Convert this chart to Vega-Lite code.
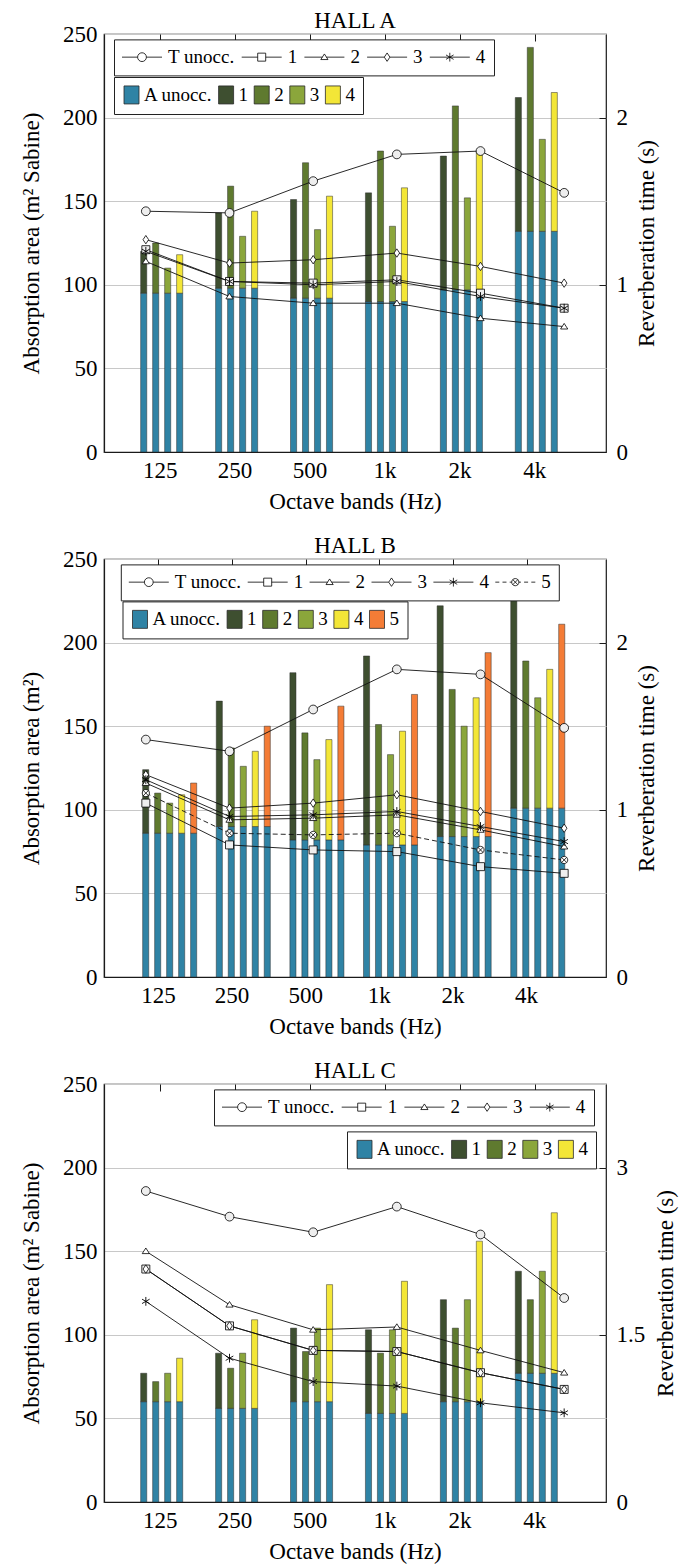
{
  "$schema": "https://vega.github.io/schema/vega-lite/v6.json",
  "padding": {"left": 19, "top": 9, "right": 2, "bottom": 5},
  "bounds": "flush",
  "spacing": 107,
  "config": {
    "font": "Liberation Serif",
    "view": {"stroke": "#1a1a1a", "strokeWidth": 1.2},
    "style": {"guide-label": {"font": "Liberation Serif"}, "guide-title": {"font": "Liberation Serif"}, "group-title": {"font": "Liberation Serif"}},
    "axis": {"labelFont": "Liberation Serif", "titleFont": "Liberation Serif", "labelFontSize": 23, "titleFontSize": 23, "titleFontWeight": "normal", "labelColor": "black", "titleColor": "black", "domainColor": "#1a1a1a", "domainWidth": 1.2, "tickColor": "#1a1a1a", "gridColor": "#c8c8c8", "gridWidth": 1},
    "title": {"font": "Liberation Serif", "fontSize": 23, "fontWeight": "normal", "color": "black", "offset": -10},
    "legend": {"labelFont": "Liberation Serif", "labelFontSize": 19, "labelColor": "black"}
  },
  "resolve": {"scale": {"color": "independent", "shape": "independent"}},
  "vconcat": [
    {
      "title": "HALL A",
      "width": 502,
      "height": 418,
      "layer": [
        {
          "data": {"values": [
            {"band": "125", "cond": "1", "unocc": 95, "occ": 120},
            {"band": "125", "cond": "2", "unocc": 95, "occ": 125},
            {"band": "125", "cond": "3", "unocc": 95, "occ": 110},
            {"band": "125", "cond": "4", "unocc": 95, "occ": 118},
            {"band": "250", "cond": "1", "unocc": 98, "occ": 143},
            {"band": "250", "cond": "2", "unocc": 98, "occ": 159},
            {"band": "250", "cond": "3", "unocc": 98, "occ": 129},
            {"band": "250", "cond": "4", "unocc": 98, "occ": 144},
            {"band": "500", "cond": "1", "unocc": 92, "occ": 151},
            {"band": "500", "cond": "2", "unocc": 92, "occ": 173},
            {"band": "500", "cond": "3", "unocc": 92, "occ": 133},
            {"band": "500", "cond": "4", "unocc": 92, "occ": 153},
            {"band": "1k", "cond": "1", "unocc": 90, "occ": 155},
            {"band": "1k", "cond": "2", "unocc": 90, "occ": 180},
            {"band": "1k", "cond": "3", "unocc": 90, "occ": 135},
            {"band": "1k", "cond": "4", "unocc": 90, "occ": 158},
            {"band": "2k", "cond": "1", "unocc": 97, "occ": 177},
            {"band": "2k", "cond": "2", "unocc": 97, "occ": 207},
            {"band": "2k", "cond": "3", "unocc": 97, "occ": 152},
            {"band": "2k", "cond": "4", "unocc": 97, "occ": 180},
            {"band": "4k", "cond": "1", "unocc": 132, "occ": 212},
            {"band": "4k", "cond": "2", "unocc": 132, "occ": 242},
            {"band": "4k", "cond": "3", "unocc": 132, "occ": 187},
            {"band": "4k", "cond": "4", "unocc": 132, "occ": 215}
          ]},
          "encoding": {
            "x": {"field": "band", "type": "nominal", "sort": ["125", "250", "500", "1k", "2k", "4k"], "scale": {"paddingInner": 0.2, "paddingOuter": 0.45}, "axis": {"title": "Octave bands (Hz)", "labelAngle": 0, "ticks": false, "labelOffset": -7.5, "labelPadding": 7, "titlePadding": 8, "labelFont": "Liberation Serif", "titleFont": "Liberation Serif"}},
            "xOffset": {"field": "cond", "type": "nominal", "sort": ["1", "2", "3", "4"], "scale": {"paddingInner": 0.49, "paddingOuter": 0.245}}
          },
          "layer": [
            {
              "mark": {"type": "bar", "stroke": "#2a2a2a", "strokeWidth": 0.7, "strokeOpacity": 0.7},
              "encoding": {
                "y": {"field": "unocc", "type": "quantitative", "stack": null, "scale": {"domain": [0, 250], "nice": false}, "axis": {"title": "Absorption area (m² Sabine)", "values": [0, 50, 100, 150, 200, 250], "grid": true, "ticks": false, "labelPadding": 7, "titlePadding": 19, "labelFont": "Liberation Serif", "titleFont": "Liberation Serif"}},
                "color": {"datum": "A unocc.", "type": "nominal", "scale": {"domain": ["A unocc.", "1", "2", "3", "4"], "range": ["#2f83a5", "#3e4f30", "#5f7a2f", "#8ba63b", "#f3e637"]},
                  "legend": {"orient": "none", "legendX": 10, "legendY": 43, "direction": "horizontal", "columns": 5, "title": null, "fillColor": "white", "strokeColor": "#222", "padding": 8, "symbolType": "M-1,-1.2H1V1.2H-1Z", "symbolSize": 225, "symbolStrokeColor": "#333", "symbolStrokeWidth": 0.8, "labelOffset": 3, "columnPadding": 3.6, "labelFont": "Liberation Serif", "labelFontSize": 19}}
              }
            },
            {
              "mark": {"type": "bar", "stroke": "#2a2a2a", "strokeWidth": 0.7, "strokeOpacity": 0.7},
              "encoding": {
                "y": {"field": "unocc", "type": "quantitative", "stack": null, "title": "Absorption area (m² Sabine)"},
                "y2": {"field": "occ"},
                "color": {"field": "cond", "type": "nominal", "legend": {"title": null}}
              }
            }
          ]
        },
        {
          "data": {"values": [{"band": "125"}, {"band": "250"}, {"band": "500"}, {"band": "1k"}, {"band": "2k"}, {"band": "4k"}]},
          "mark": {"type": "tick", "opacity": 0},
          "encoding": {"x": {"field": "band", "type": "nominal", "sort": ["125", "250", "500", "1k", "2k", "4k"], "scale": {"paddingInner": 0.2, "paddingOuter": 0.45}, "axis": {"orient": "top", "labels": false, "title": null, "domain": false, "offset": -7, "tickSize": 7, "tickOffset": -7.5, "tickWidth": 1}}}
        },
        {
          "data": {"values": [
            {"band": "125", "series": "T unocc.", "T": 1.44}, {"band": "250", "series": "T unocc.", "T": 1.43}, {"band": "500", "series": "T unocc.", "T": 1.62}, {"band": "1k", "series": "T unocc.", "T": 1.78}, {"band": "2k", "series": "T unocc.", "T": 1.80}, {"band": "4k", "series": "T unocc.", "T": 1.55},
            {"band": "125", "series": "1", "T": 1.21}, {"band": "250", "series": "1", "T": 1.02}, {"band": "500", "series": "1", "T": 1.01}, {"band": "1k", "series": "1", "T": 1.03}, {"band": "2k", "series": "1", "T": 0.95}, {"band": "4k", "series": "1", "T": 0.86},
            {"band": "125", "series": "2", "T": 1.14}, {"band": "250", "series": "2", "T": 0.93}, {"band": "500", "series": "2", "T": 0.89}, {"band": "1k", "series": "2", "T": 0.89}, {"band": "2k", "series": "2", "T": 0.80}, {"band": "4k", "series": "2", "T": 0.75},
            {"band": "125", "series": "3", "T": 1.27}, {"band": "250", "series": "3", "T": 1.13}, {"band": "500", "series": "3", "T": 1.15}, {"band": "1k", "series": "3", "T": 1.19}, {"band": "2k", "series": "3", "T": 1.11}, {"band": "4k", "series": "3", "T": 1.01},
            {"band": "125", "series": "4", "T": 1.20}, {"band": "250", "series": "4", "T": 1.02}, {"band": "500", "series": "4", "T": 1.00}, {"band": "1k", "series": "4", "T": 1.02}, {"band": "2k", "series": "4", "T": 0.93}, {"band": "4k", "series": "4", "T": 0.86}
          ]},
          "encoding": {
            "x": {"field": "band", "type": "nominal", "sort": ["125", "250", "500", "1k", "2k", "4k"], "scale": {"type": "point", "padding": 0.5}, "axis": null},
            "y": {"field": "T", "type": "quantitative", "scale": {"domain": [0, 2.5], "nice": false}, "axis": {"orient": "right", "title": "Reverberation time (s)", "values": [0, 1, 2], "grid": false, "domain": false, "offset": -7, "tickSize": 7, "labelPadding": 10, "titlePadding": 8, "titleAngle": 270, "titleBaseline": "top", "labelFont": "Liberation Serif", "titleFont": "Liberation Serif"}}
          },
          "layer": [
            {"mark": {"type": "line", "color": "#111", "strokeWidth": 0.9}, "encoding": {"detail": {"field": "series"}}},
            {"transform": [{"filter": "datum.series === 'T unocc.'"}], "mark": {"type": "point", "shape": "M1.1,0A1.1,1.1 0 1,1 -1.1,0A1.1,1.1 0 1,1 1.1,0Z", "filled": true, "fill": "#eeeeee", "opacity": 1, "stroke": "black", "strokeWidth": 0.8, "size": 64}},
            {"transform": [{"filter": "datum.series === '1'"}], "mark": {"type": "point", "shape": "M-1,-1H1V1H-1Z", "filled": true, "fill": "#eeeeee", "opacity": 1, "stroke": "black", "strokeWidth": 0.8, "size": 64}},
            {"transform": [{"filter": "datum.series === '2'"}], "mark": {"type": "point", "shape": "M0,-0.8L0.9,0.6L-0.9,0.6Z", "filled": true, "fill": "white", "opacity": 1, "stroke": "black", "strokeWidth": 0.8, "size": 64}},
            {"transform": [{"filter": "datum.series === '3'"}], "mark": {"type": "point", "shape": "M0,-1.05L0.7,0L0,1.05L-0.7,0Z", "filled": true, "fill": "white", "opacity": 1, "stroke": "black", "strokeWidth": 0.8, "size": 64}},
            {"transform": [{"filter": "datum.series === '4'"}], "mark": {"type": "point", "shape": "M0,-1.1V1.1M-0.95,-0.55L0.95,0.55M-0.95,0.55L0.95,-0.55", "filled": false, "opacity": 1, "stroke": "black", "strokeWidth": 0.9, "size": 64}},
            {
              "mark": {"type": "point", "filled": false, "color": "black", "opacity": 0, "strokeWidth": 0.8, "size": 64},
              "encoding": {
                "shape": {"field": "series", "type": "nominal", "scale": {"domain": ["T unocc.", "1", "2", "3", "4"], "range": [
                  "M-5,0H-1.1M1.1,0H5M1.1,0A1.1,1.1 0 1,1 -1.1,0A1.1,1.1 0 1,1 1.1,0Z",
                  "M-5,0H-1M1,0H5M-1,-1H1V1H-1Z",
                  "M-5,0H-0.5M0.5,0H5M0,-0.8L0.9,0.6L-0.9,0.6Z",
                  "M-5,0H-0.7M0.7,0H5M0,-1.05L0.7,0L0,1.05L-0.7,0Z",
                  "M-5,0H5M0,-1.1V1.1M-0.95,-0.55L0.95,0.55M-0.95,0.55L0.95,-0.55"
                ]},
                  "legend": {"orient": "none", "legendX": 10, "legendY": 5.4, "direction": "horizontal", "columns": 5, "title": null, "fillColor": "white", "strokeColor": "#222", "padding": 8, "symbolSize": 64, "symbolOffset": 10.5, "labelOffset": 16.5, "columnPadding": 4.7, "symbolStrokeColor": "black", "symbolStrokeWidth": 0.8, "labelFont": "Liberation Serif", "labelFontSize": 19}}
              }
            }
          ]
        }
      ],
      "resolve": {"scale": {"x": "independent", "y": "independent"}}
    },
    {
      "title": "HALL B",
      "width": 502,
      "height": 418,
      "layer": [
        {
          "data": {"values": [
            {"band": "125", "cond": "1", "unocc": 86, "occ": 124},
            {"band": "125", "cond": "2", "unocc": 86, "occ": 110},
            {"band": "125", "cond": "3", "unocc": 86, "occ": 104},
            {"band": "125", "cond": "4", "unocc": 86, "occ": 109},
            {"band": "125", "cond": "5", "unocc": 86, "occ": 116},
            {"band": "250", "cond": "1", "unocc": 90, "occ": 165},
            {"band": "250", "cond": "2", "unocc": 90, "occ": 137},
            {"band": "250", "cond": "3", "unocc": 90, "occ": 126},
            {"band": "250", "cond": "4", "unocc": 90, "occ": 135},
            {"band": "250", "cond": "5", "unocc": 90, "occ": 150},
            {"band": "500", "cond": "1", "unocc": 82, "occ": 182},
            {"band": "500", "cond": "2", "unocc": 82, "occ": 146},
            {"band": "500", "cond": "3", "unocc": 82, "occ": 130},
            {"band": "500", "cond": "4", "unocc": 82, "occ": 142},
            {"band": "500", "cond": "5", "unocc": 82, "occ": 162},
            {"band": "1k", "cond": "1", "unocc": 79, "occ": 192},
            {"band": "1k", "cond": "2", "unocc": 79, "occ": 151},
            {"band": "1k", "cond": "3", "unocc": 79, "occ": 133},
            {"band": "1k", "cond": "4", "unocc": 79, "occ": 147},
            {"band": "1k", "cond": "5", "unocc": 79, "occ": 169},
            {"band": "2k", "cond": "1", "unocc": 84, "occ": 222},
            {"band": "2k", "cond": "2", "unocc": 84, "occ": 172},
            {"band": "2k", "cond": "3", "unocc": 84, "occ": 150},
            {"band": "2k", "cond": "4", "unocc": 84, "occ": 167},
            {"band": "2k", "cond": "5", "unocc": 84, "occ": 194},
            {"band": "4k", "cond": "1", "unocc": 101, "occ": 229},
            {"band": "4k", "cond": "2", "unocc": 101, "occ": 189},
            {"band": "4k", "cond": "3", "unocc": 101, "occ": 167},
            {"band": "4k", "cond": "4", "unocc": 101, "occ": 184},
            {"band": "4k", "cond": "5", "unocc": 101, "occ": 211}
          ]},
          "encoding": {
            "x": {"field": "band", "type": "nominal", "sort": ["125", "250", "500", "1k", "2k", "4k"], "scale": {"paddingInner": 0.151, "paddingOuter": 0.485}, "axis": {"title": "Octave bands (Hz)", "labelAngle": 0, "ticks": false, "labelOffset": -12.5, "labelPadding": 7, "titlePadding": 8, "labelFont": "Liberation Serif", "titleFont": "Liberation Serif"}},
            "xOffset": {"field": "cond", "type": "nominal", "sort": ["1", "2", "3", "4", "5"], "scale": {"paddingInner": 0.384, "paddingOuter": 0.192}}
          },
          "layer": [
            {
              "mark": {"type": "bar", "stroke": "#2a2a2a", "strokeWidth": 0.7, "strokeOpacity": 0.7},
              "encoding": {
                "y": {"field": "unocc", "type": "quantitative", "stack": null, "scale": {"domain": [0, 250], "nice": false}, "axis": {"title": "Absorption area (m²)", "values": [0, 50, 100, 150, 200, 250], "grid": true, "ticks": false, "labelPadding": 7, "titlePadding": 19, "labelFont": "Liberation Serif", "titleFont": "Liberation Serif"}},
                "color": {"datum": "A unocc.", "type": "nominal", "scale": {"domain": ["A unocc.", "1", "2", "3", "4", "5"], "range": ["#2f83a5", "#3e4f30", "#5f7a2f", "#8ba63b", "#f3e637", "#f47c36"]},
                  "legend": {"orient": "none", "legendX": 18.5, "legendY": 42.4, "direction": "horizontal", "columns": 6, "title": null, "fillColor": "white", "strokeColor": "#222", "padding": 8, "symbolType": "M-1,-1.2H1V1.2H-1Z", "symbolSize": 225, "symbolStrokeColor": "#333", "symbolStrokeWidth": 0.8, "labelOffset": 3, "columnPadding": 3.6, "labelFont": "Liberation Serif", "labelFontSize": 19}}
              }
            },
            {
              "mark": {"type": "bar", "stroke": "#2a2a2a", "strokeWidth": 0.7, "strokeOpacity": 0.7},
              "encoding": {
                "y": {"field": "unocc", "type": "quantitative", "stack": null, "title": "Absorption area (m²)"},
                "y2": {"field": "occ"},
                "color": {"field": "cond", "type": "nominal", "legend": {"title": null}}
              }
            }
          ]
        },
        {
          "data": {"values": [{"band": "125"}, {"band": "250"}, {"band": "500"}, {"band": "1k"}, {"band": "2k"}, {"band": "4k"}]},
          "mark": {"type": "tick", "opacity": 0},
          "encoding": {"x": {"field": "band", "type": "nominal", "sort": ["125", "250", "500", "1k", "2k", "4k"], "scale": {"paddingInner": 0.151, "paddingOuter": 0.485}, "axis": {"orient": "top", "labels": false, "title": null, "domain": false, "offset": -7, "tickSize": 7, "tickOffset": -12.5, "tickWidth": 1}}}
        },
        {
          "data": {"values": [
            {"band": "125", "series": "T unocc.", "T": 1.42}, {"band": "250", "series": "T unocc.", "T": 1.35}, {"band": "500", "series": "T unocc.", "T": 1.60}, {"band": "1k", "series": "T unocc.", "T": 1.84}, {"band": "2k", "series": "T unocc.", "T": 1.81}, {"band": "4k", "series": "T unocc.", "T": 1.49},
            {"band": "125", "series": "1", "T": 1.04}, {"band": "250", "series": "1", "T": 0.79}, {"band": "500", "series": "1", "T": 0.76}, {"band": "1k", "series": "1", "T": 0.75}, {"band": "2k", "series": "1", "T": 0.66}, {"band": "4k", "series": "1", "T": 0.62},
            {"band": "125", "series": "2", "T": 1.16}, {"band": "250", "series": "2", "T": 0.94}, {"band": "500", "series": "2", "T": 0.95}, {"band": "1k", "series": "2", "T": 0.97}, {"band": "2k", "series": "2", "T": 0.88}, {"band": "4k", "series": "2", "T": 0.78},
            {"band": "125", "series": "3", "T": 1.21}, {"band": "250", "series": "3", "T": 1.01}, {"band": "500", "series": "3", "T": 1.04}, {"band": "1k", "series": "3", "T": 1.09}, {"band": "2k", "series": "3", "T": 0.99}, {"band": "4k", "series": "3", "T": 0.89},
            {"band": "125", "series": "4", "T": 1.18}, {"band": "250", "series": "4", "T": 0.96}, {"band": "500", "series": "4", "T": 0.97}, {"band": "1k", "series": "4", "T": 0.99}, {"band": "2k", "series": "4", "T": 0.90}, {"band": "4k", "series": "4", "T": 0.81},
            {"band": "125", "series": "5", "T": 1.10}, {"band": "250", "series": "5", "T": 0.86}, {"band": "500", "series": "5", "T": 0.85}, {"band": "1k", "series": "5", "T": 0.86}, {"band": "2k", "series": "5", "T": 0.76}, {"band": "4k", "series": "5", "T": 0.70}
          ]},
          "encoding": {
            "x": {"field": "band", "type": "nominal", "sort": ["125", "250", "500", "1k", "2k", "4k"], "scale": {"type": "point", "padding": 0.5}, "axis": null},
            "y": {"field": "T", "type": "quantitative", "scale": {"domain": [0, 2.5], "nice": false}, "axis": {"orient": "right", "title": "Reverberation time (s)", "values": [0, 1, 2], "grid": false, "domain": false, "offset": -7, "tickSize": 7, "labelPadding": 10, "titlePadding": 8, "titleAngle": 270, "titleBaseline": "top", "labelFont": "Liberation Serif", "titleFont": "Liberation Serif"}}
          },
          "layer": [
            {"transform": [{"filter": "datum.series !== '5'"}], "mark": {"type": "line", "color": "#111", "strokeWidth": 0.9}, "encoding": {"detail": {"field": "series"}}},
            {"transform": [{"filter": "datum.series === '5'"}], "mark": {"type": "line", "color": "#111", "strokeWidth": 0.9, "strokeDash": [5, 3]}, "encoding": {}},
            {"transform": [{"filter": "datum.series === 'T unocc.'"}], "mark": {"type": "point", "shape": "M1.1,0A1.1,1.1 0 1,1 -1.1,0A1.1,1.1 0 1,1 1.1,0Z", "filled": true, "fill": "#eeeeee", "opacity": 1, "stroke": "black", "strokeWidth": 0.8, "size": 64}},
            {"transform": [{"filter": "datum.series === '1'"}], "mark": {"type": "point", "shape": "M-1,-1H1V1H-1Z", "filled": true, "fill": "#eeeeee", "opacity": 1, "stroke": "black", "strokeWidth": 0.8, "size": 64}},
            {"transform": [{"filter": "datum.series === '2'"}], "mark": {"type": "point", "shape": "M0,-0.8L0.9,0.6L-0.9,0.6Z", "filled": true, "fill": "white", "opacity": 1, "stroke": "black", "strokeWidth": 0.8, "size": 64}},
            {"transform": [{"filter": "datum.series === '3'"}], "mark": {"type": "point", "shape": "M0,-1.05L0.7,0L0,1.05L-0.7,0Z", "filled": true, "fill": "white", "opacity": 1, "stroke": "black", "strokeWidth": 0.8, "size": 64}},
            {"transform": [{"filter": "datum.series === '4'"}], "mark": {"type": "point", "shape": "M0,-1.1V1.1M-0.95,-0.55L0.95,0.55M-0.95,0.55L0.95,-0.55", "filled": false, "opacity": 1, "stroke": "black", "strokeWidth": 0.9, "size": 64}},
            {"transform": [{"filter": "datum.series === '5'"}], "mark": {"type": "point", "shape": "M0.9,0A0.9,0.9 0 1,1 -0.9,0A0.9,0.9 0 1,1 0.9,0ZM-0.64,-0.64L0.64,0.64M-0.64,0.64L0.64,-0.64", "filled": true, "fill": "white", "opacity": 1, "stroke": "black", "strokeWidth": 0.8, "size": 64}},
            {
              "mark": {"type": "point", "filled": false, "color": "black", "opacity": 0, "strokeWidth": 0.8, "size": 64},
              "encoding": {
                "shape": {"field": "series", "type": "nominal", "scale": {"domain": ["T unocc.", "1", "2", "3", "4", "5"], "range": [
                  "M-5,0H-1.1M1.1,0H5M1.1,0A1.1,1.1 0 1,1 -1.1,0A1.1,1.1 0 1,1 1.1,0Z",
                  "M-5,0H-1M1,0H5M-1,-1H1V1H-1Z",
                  "M-5,0H-0.5M0.5,0H5M0,-0.8L0.9,0.6L-0.9,0.6Z",
                  "M-5,0H-0.7M0.7,0H5M0,-1.05L0.7,0L0,1.05L-0.7,0Z",
                  "M-5,0H5M0,-1.1V1.1M-0.95,-0.55L0.95,0.55M-0.95,0.55L0.95,-0.55",
                  "M-5,0H-4M-3.2,0H-2.2M-1.4,0H-0.9M0.9,0H1.4M2.2,0H3.2M4,0H5M0.9,0A0.9,0.9 0 1,1 -0.9,0A0.9,0.9 0 1,1 0.9,0ZM-0.64,-0.64L0.64,0.64M-0.64,0.64L0.64,-0.64"
                ]},
                  "legend": {"orient": "none", "legendX": 16.8, "legendY": 5.4, "direction": "horizontal", "columns": 6, "title": null, "fillColor": "white", "strokeColor": "#222", "padding": 8, "symbolSize": 64, "symbolOffset": 10.5, "labelOffset": 16.5, "columnPadding": 3.9, "symbolStrokeColor": "black", "symbolStrokeWidth": 0.8, "labelFont": "Liberation Serif", "labelFontSize": 19}}
              }
            }
          ]
        }
      ],
      "resolve": {"scale": {"x": "independent", "y": "independent"}}
    },
    {
      "title": "HALL C",
      "width": 502,
      "height": 418,
      "layer": [
        {
          "data": {"values": [
            {"band": "125", "cond": "1", "unocc": 60, "occ": 77},
            {"band": "125", "cond": "2", "unocc": 60, "occ": 72},
            {"band": "125", "cond": "3", "unocc": 60, "occ": 77},
            {"band": "125", "cond": "4", "unocc": 60, "occ": 86},
            {"band": "250", "cond": "1", "unocc": 56, "occ": 89},
            {"band": "250", "cond": "2", "unocc": 56, "occ": 80},
            {"band": "250", "cond": "3", "unocc": 56, "occ": 89},
            {"band": "250", "cond": "4", "unocc": 56, "occ": 109},
            {"band": "500", "cond": "1", "unocc": 60, "occ": 104},
            {"band": "500", "cond": "2", "unocc": 60, "occ": 90},
            {"band": "500", "cond": "3", "unocc": 60, "occ": 104},
            {"band": "500", "cond": "4", "unocc": 60, "occ": 130},
            {"band": "1k", "cond": "1", "unocc": 53, "occ": 103},
            {"band": "1k", "cond": "2", "unocc": 53, "occ": 89},
            {"band": "1k", "cond": "3", "unocc": 53, "occ": 103},
            {"band": "1k", "cond": "4", "unocc": 53, "occ": 132},
            {"band": "2k", "cond": "1", "unocc": 60, "occ": 121},
            {"band": "2k", "cond": "2", "unocc": 60, "occ": 104},
            {"band": "2k", "cond": "3", "unocc": 60, "occ": 121},
            {"band": "2k", "cond": "4", "unocc": 60, "occ": 156},
            {"band": "4k", "cond": "1", "unocc": 77, "occ": 138},
            {"band": "4k", "cond": "2", "unocc": 77, "occ": 121},
            {"band": "4k", "cond": "3", "unocc": 77, "occ": 138},
            {"band": "4k", "cond": "4", "unocc": 77, "occ": 173}
          ]},
          "encoding": {
            "x": {"field": "band", "type": "nominal", "sort": ["125", "250", "500", "1k", "2k", "4k"], "scale": {"paddingInner": 0.2, "paddingOuter": 0.45}, "axis": {"title": "Octave bands (Hz)", "labelAngle": 0, "ticks": false, "labelOffset": -7.5, "labelPadding": 7, "titlePadding": 8, "labelFont": "Liberation Serif", "titleFont": "Liberation Serif"}},
            "xOffset": {"field": "cond", "type": "nominal", "sort": ["1", "2", "3", "4"], "scale": {"paddingInner": 0.49, "paddingOuter": 0.245}}
          },
          "layer": [
            {
              "mark": {"type": "bar", "stroke": "#2a2a2a", "strokeWidth": 0.7, "strokeOpacity": 0.7},
              "encoding": {
                "y": {"field": "unocc", "type": "quantitative", "stack": null, "scale": {"domain": [0, 250], "nice": false}, "axis": {"title": "Absorption area (m² Sabine)", "values": [0, 50, 100, 150, 200, 250], "grid": true, "ticks": false, "labelPadding": 7, "titlePadding": 19, "labelFont": "Liberation Serif", "titleFont": "Liberation Serif"}},
                "color": {"datum": "A unocc.", "type": "nominal", "scale": {"domain": ["A unocc.", "1", "2", "3", "4"], "range": ["#2f83a5", "#3e4f30", "#5f7a2f", "#8ba63b", "#f3e637"]},
                  "legend": {"orient": "none", "legendX": 243, "legendY": 47.4, "direction": "horizontal", "columns": 5, "title": null, "fillColor": "white", "strokeColor": "#222", "padding": 8, "symbolType": "M-1,-1.2H1V1.2H-1Z", "symbolSize": 225, "symbolStrokeColor": "#333", "symbolStrokeWidth": 0.8, "labelOffset": 3, "columnPadding": 3.6, "labelFont": "Liberation Serif", "labelFontSize": 19}}
              }
            },
            {
              "mark": {"type": "bar", "stroke": "#2a2a2a", "strokeWidth": 0.7, "strokeOpacity": 0.7},
              "encoding": {
                "y": {"field": "unocc", "type": "quantitative", "stack": null, "title": "Absorption area (m² Sabine)"},
                "y2": {"field": "occ"},
                "color": {"field": "cond", "type": "nominal", "legend": {"title": null}}
              }
            }
          ]
        },
        {
          "data": {"values": [{"band": "125"}, {"band": "250"}, {"band": "500"}, {"band": "1k"}, {"band": "2k"}, {"band": "4k"}]},
          "mark": {"type": "tick", "opacity": 0},
          "encoding": {"x": {"field": "band", "type": "nominal", "sort": ["125", "250", "500", "1k", "2k", "4k"], "scale": {"paddingInner": 0.2, "paddingOuter": 0.45}, "axis": {"orient": "top", "labels": false, "title": null, "domain": false, "offset": -7, "tickSize": 7, "tickOffset": -7.5, "tickWidth": 1}}}
        },
        {
          "data": {"values": [
            {"band": "125", "series": "T unocc.", "T": 2.79}, {"band": "250", "series": "T unocc.", "T": 2.56}, {"band": "500", "series": "T unocc.", "T": 2.42}, {"band": "1k", "series": "T unocc.", "T": 2.65}, {"band": "2k", "series": "T unocc.", "T": 2.40}, {"band": "4k", "series": "T unocc.", "T": 1.83},
            {"band": "125", "series": "1", "T": 2.09}, {"band": "250", "series": "1", "T": 1.58}, {"band": "500", "series": "1", "T": 1.36}, {"band": "1k", "series": "1", "T": 1.35}, {"band": "2k", "series": "1", "T": 1.16}, {"band": "4k", "series": "1", "T": 1.01},
            {"band": "125", "series": "2", "T": 2.25}, {"band": "250", "series": "2", "T": 1.77}, {"band": "500", "series": "2", "T": 1.545}, {"band": "1k", "series": "2", "T": 1.57}, {"band": "2k", "series": "2", "T": 1.36}, {"band": "4k", "series": "2", "T": 1.16},
            {"band": "125", "series": "3", "T": 2.09}, {"band": "250", "series": "3", "T": 1.58}, {"band": "500", "series": "3", "T": 1.36}, {"band": "1k", "series": "3", "T": 1.35}, {"band": "2k", "series": "3", "T": 1.16}, {"band": "4k", "series": "3", "T": 1.01},
            {"band": "125", "series": "4", "T": 1.80}, {"band": "250", "series": "4", "T": 1.29}, {"band": "500", "series": "4", "T": 1.08}, {"band": "1k", "series": "4", "T": 1.04}, {"band": "2k", "series": "4", "T": 0.89}, {"band": "4k", "series": "4", "T": 0.80}
          ]},
          "encoding": {
            "x": {"field": "band", "type": "nominal", "sort": ["125", "250", "500", "1k", "2k", "4k"], "scale": {"type": "point", "padding": 0.5}, "axis": null},
            "y": {"field": "T", "type": "quantitative", "scale": {"domain": [0, 3.75], "nice": false}, "axis": {"orient": "right", "title": "Reverberation time (s)", "values": [0, 1.5, 3], "format": ".1~f", "grid": false, "domain": false, "offset": -7, "tickSize": 7, "labelPadding": 10, "titlePadding": 10, "titleAngle": 270, "titleBaseline": "top", "labelFont": "Liberation Serif", "titleFont": "Liberation Serif"}}
          },
          "layer": [
            {"mark": {"type": "line", "color": "#111", "strokeWidth": 0.9}, "encoding": {"detail": {"field": "series"}}},
            {"transform": [{"filter": "datum.series === 'T unocc.'"}], "mark": {"type": "point", "shape": "M1.1,0A1.1,1.1 0 1,1 -1.1,0A1.1,1.1 0 1,1 1.1,0Z", "filled": true, "fill": "#eeeeee", "opacity": 1, "stroke": "black", "strokeWidth": 0.8, "size": 64}},
            {"transform": [{"filter": "datum.series === '1'"}], "mark": {"type": "point", "shape": "M-1,-1H1V1H-1Z", "filled": true, "fill": "#eeeeee", "opacity": 1, "stroke": "black", "strokeWidth": 0.8, "size": 64}},
            {"transform": [{"filter": "datum.series === '2'"}], "mark": {"type": "point", "shape": "M0,-0.8L0.9,0.6L-0.9,0.6Z", "filled": true, "fill": "white", "opacity": 1, "stroke": "black", "strokeWidth": 0.8, "size": 64}},
            {"transform": [{"filter": "datum.series === '3'"}], "mark": {"type": "point", "shape": "M0,-1.05L0.7,0L0,1.05L-0.7,0Z", "filled": true, "fill": "white", "opacity": 1, "stroke": "black", "strokeWidth": 0.8, "size": 64}},
            {"transform": [{"filter": "datum.series === '4'"}], "mark": {"type": "point", "shape": "M0,-1.1V1.1M-0.95,-0.55L0.95,0.55M-0.95,0.55L0.95,-0.55", "filled": false, "opacity": 1, "stroke": "black", "strokeWidth": 0.9, "size": 64}},
            {
              "mark": {"type": "point", "filled": false, "color": "black", "opacity": 0, "strokeWidth": 0.8, "size": 64},
              "encoding": {
                "shape": {"field": "series", "type": "nominal", "scale": {"domain": ["T unocc.", "1", "2", "3", "4"], "range": [
                  "M-5,0H-1.1M1.1,0H5M1.1,0A1.1,1.1 0 1,1 -1.1,0A1.1,1.1 0 1,1 1.1,0Z",
                  "M-5,0H-1M1,0H5M-1,-1H1V1H-1Z",
                  "M-5,0H-0.5M0.5,0H5M0,-0.8L0.9,0.6L-0.9,0.6Z",
                  "M-5,0H-0.7M0.7,0H5M0,-1.05L0.7,0L0,1.05L-0.7,0Z",
                  "M-5,0H5M0,-1.1V1.1M-0.95,-0.55L0.95,0.55M-0.95,0.55L0.95,-0.55"
                ]},
                  "legend": {"orient": "none", "legendX": 110, "legendY": 5.4, "direction": "horizontal", "columns": 5, "title": null, "fillColor": "white", "strokeColor": "#222", "padding": 8, "symbolSize": 64, "symbolOffset": 10.5, "labelOffset": 16.5, "columnPadding": 4.7, "symbolStrokeColor": "black", "symbolStrokeWidth": 0.8, "labelFont": "Liberation Serif", "labelFontSize": 19}}
              }
            }
          ]
        }
      ],
      "resolve": {"scale": {"x": "independent", "y": "independent"}}
    }
  ]
}
